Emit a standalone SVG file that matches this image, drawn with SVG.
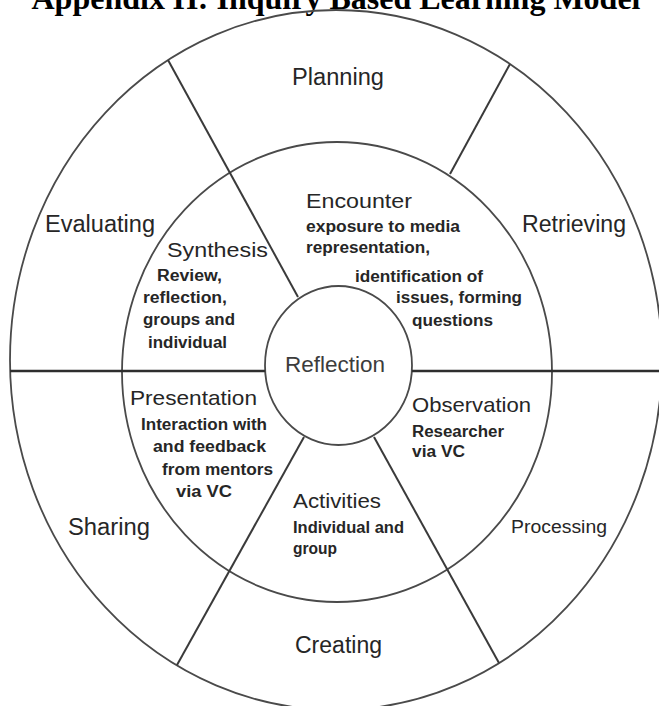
<svg xmlns="http://www.w3.org/2000/svg" width="659" height="706" viewBox="0 0 659 706">
<style>
.ring{fill:none;stroke:#4a4a4a;stroke-width:1.8}
.div{stroke:#3a3a3a;stroke-width:2;fill:none}
.hz{stroke:#2e2e2e;stroke-width:2.4}
text{font-family:"Liberation Sans",Arial,sans-serif;fill:#262626}
.title{font-family:"Liberation Serif","Times New Roman",serif;font-weight:bold;font-size:32px;fill:#000}
.lbl{font-size:23px}
.hd{font-size:21px}
.body{font-size:16px;font-weight:bold}
.proc{font-size:18px}
.ctr{font-size:22px;fill:#3c3c3c}
</style>
<rect width="659" height="706" fill="#fff"/>
<text class="title" x="336" y="9" text-anchor="middle">Appendix H: Inquiry Based Learning Model</text>
<g id="rings">
<ellipse class="ring" cx="336" cy="360" rx="326" ry="350"/>
<ellipse class="ring" cx="337" cy="372" rx="215" ry="230"/>
<ellipse class="ring" cx="338.5" cy="365.5" rx="73.5" ry="79.5"/>
</g>
<g id="connectors">
<line class="div" x1="298" y1="297" x2="168" y2="60"/>
<line class="div" x1="450" y1="174" x2="510" y2="64"/>
<line class="div" x1="304" y1="437" x2="177" y2="665"/>
<line class="div" x1="374" y1="437" x2="499" y2="663"/>
<line class="hz" x1="10" y1="371" x2="265" y2="371"/>
<line class="hz" x1="412" y1="371" x2="659" y2="371"/>
</g>
<g id="reflection"><text class="ctr" x="285" y="372" textLength="100" lengthAdjust="spacingAndGlyphs">Reflection</text></g>
<g id="planning"><text class="lbl" x="292" y="85" textLength="92" lengthAdjust="spacingAndGlyphs">Planning</text></g>
<g id="evaluating"><text class="lbl" x="45" y="232" textLength="110" lengthAdjust="spacingAndGlyphs">Evaluating</text></g>
<g id="retrieving"><text class="lbl" x="522" y="232" textLength="104" lengthAdjust="spacingAndGlyphs">Retrieving</text></g>
<g id="sharing"><text class="lbl" x="68" y="535" textLength="82" lengthAdjust="spacingAndGlyphs">Sharing</text></g>
<g id="creating"><text class="lbl" x="295" y="653" textLength="87" lengthAdjust="spacingAndGlyphs">Creating</text></g>
<g id="processing"><text class="proc" x="511" y="533" textLength="96" lengthAdjust="spacingAndGlyphs">Processing</text></g>
<g id="encounter">
<text class="hd" x="306" y="208" textLength="106" lengthAdjust="spacingAndGlyphs">Encounter</text>
<text class="body" x="306" y="232" textLength="154" lengthAdjust="spacingAndGlyphs">exposure to media</text>
<text class="body" x="306" y="253" textLength="124" lengthAdjust="spacingAndGlyphs">representation,</text>
<text class="body" x="355" y="282" textLength="128" lengthAdjust="spacingAndGlyphs">identification of</text>
<text class="body" x="396" y="303" textLength="126" lengthAdjust="spacingAndGlyphs">issues, forming</text>
<text class="body" x="412" y="326" textLength="81" lengthAdjust="spacingAndGlyphs">questions</text>
</g>
<g id="synthesis">
<text class="hd" x="167" y="257" textLength="101" lengthAdjust="spacingAndGlyphs">Synthesis</text>
<text class="body" x="157" y="281" textLength="65" lengthAdjust="spacingAndGlyphs">Review,</text>
<text class="body" x="143" y="303" textLength="84" lengthAdjust="spacingAndGlyphs">reflection,</text>
<text class="body" x="143" y="325" textLength="92" lengthAdjust="spacingAndGlyphs">groups and</text>
<text class="body" x="148" y="348" textLength="79" lengthAdjust="spacingAndGlyphs">individual</text>
</g>
<g id="presentation">
<text class="hd" x="130" y="405" textLength="127" lengthAdjust="spacingAndGlyphs">Presentation</text>
<text class="body" x="141" y="430" textLength="126" lengthAdjust="spacingAndGlyphs">Interaction with</text>
<text class="body" x="153" y="452" textLength="113" lengthAdjust="spacingAndGlyphs">and feedback</text>
<text class="body" x="162" y="475" textLength="111" lengthAdjust="spacingAndGlyphs">from mentors</text>
<text class="body" x="176" y="497" textLength="56" lengthAdjust="spacingAndGlyphs">via VC</text>
</g>
<g id="observation">
<text class="hd" x="412" y="412" textLength="119" lengthAdjust="spacingAndGlyphs">Observation</text>
<text class="body" x="412" y="437" textLength="92" lengthAdjust="spacingAndGlyphs">Researcher</text>
<text class="body" x="412" y="457" textLength="53" lengthAdjust="spacingAndGlyphs">via VC</text>
</g>
<g id="activities">
<text class="hd" x="293" y="508" textLength="88" lengthAdjust="spacingAndGlyphs">Activities</text>
<text class="body" x="293" y="533" textLength="111" lengthAdjust="spacingAndGlyphs">Individual and</text>
<text class="body" x="293" y="554" textLength="44" lengthAdjust="spacingAndGlyphs">group</text>
</g>
</svg>
